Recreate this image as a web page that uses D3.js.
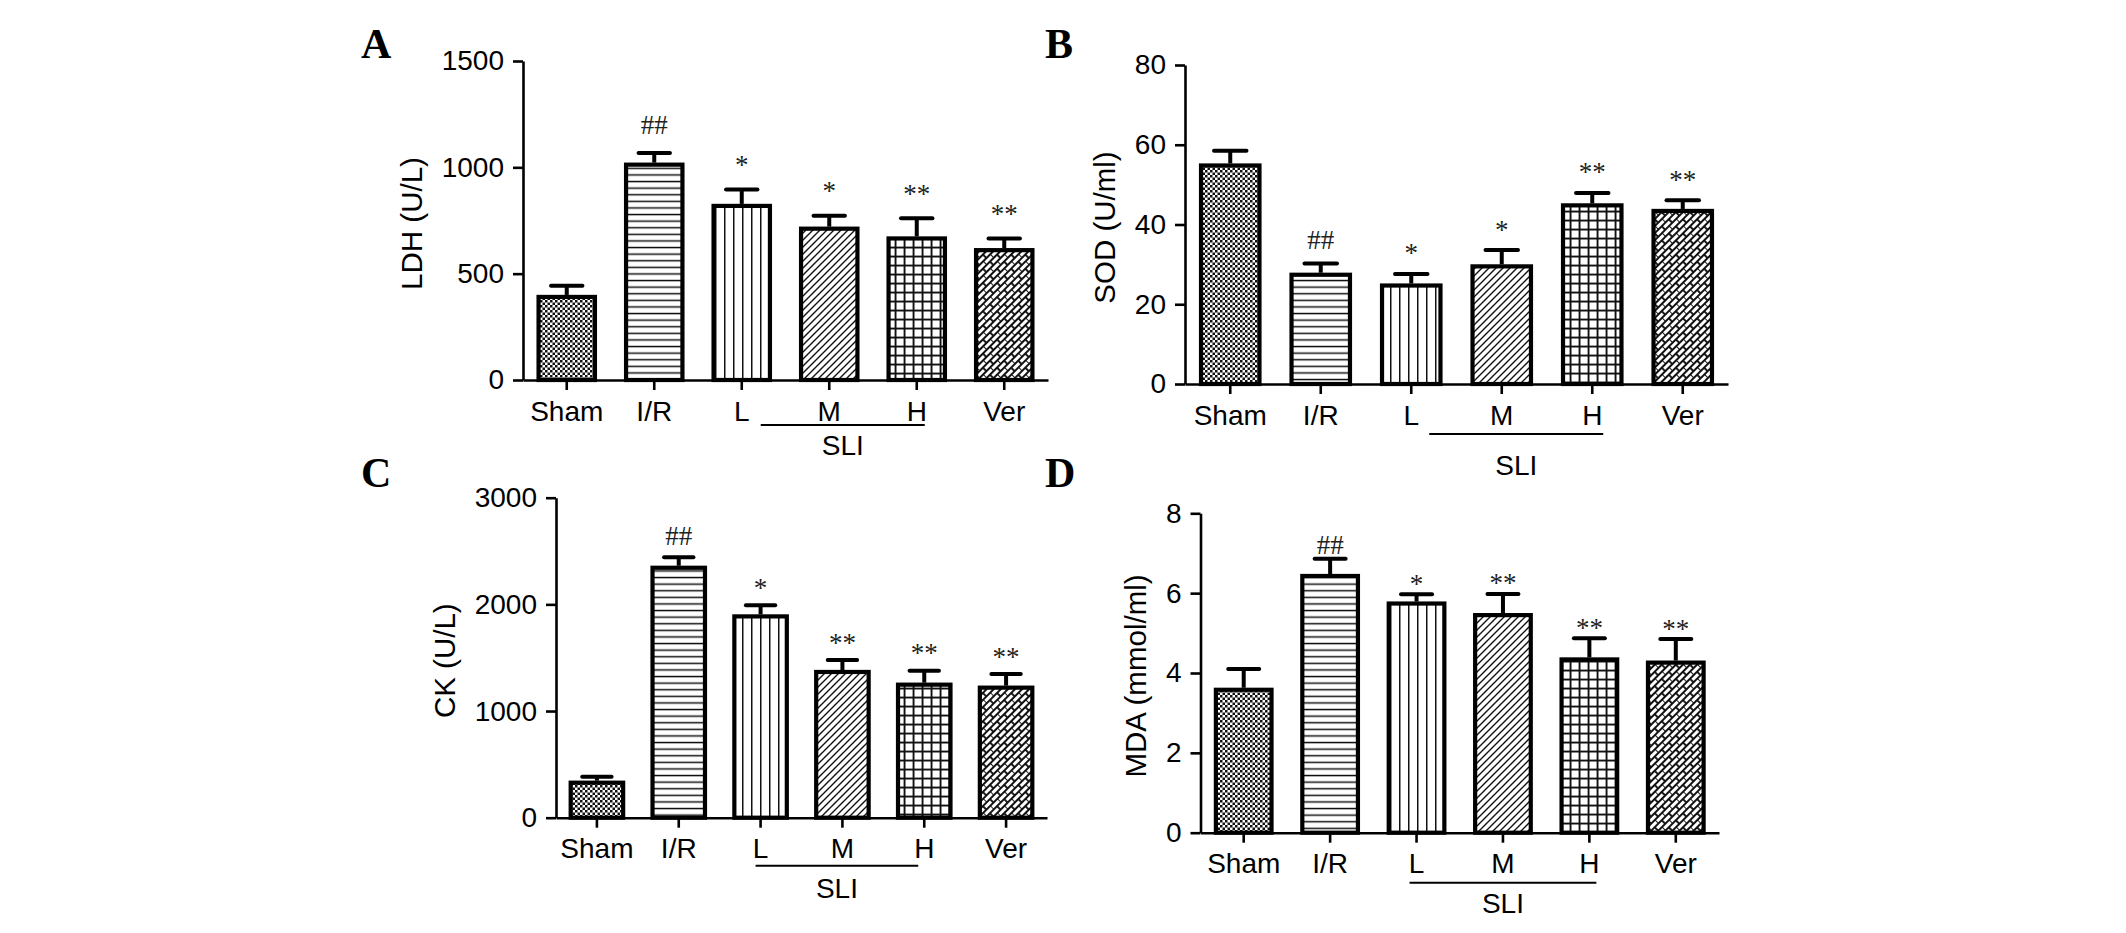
<!DOCTYPE html>
<html>
<head>
<meta charset="utf-8">
<script src="https://cdn.jsdelivr.net/npm/d3@7"></script>
<style>
  html, body { margin: 0; padding: 0; background: #fff; }
  svg { display: block; }
</style>
</head>
<body>
<svg id="chart" width="2126" height="933"></svg>
<script>
// ---------------- data ----------------
const categories = ["Sham", "I/R", "L", "M", "H", "Ver"];
const sliGroup = ["L", "M", "H"];
const sliLabel = "SLI";

const ldhMean = [400, 1022, 828, 721, 675, 620];
const ldhErr  = [43, 45, 68, 51, 86, 45];
const ldhSig  = ["", "##", "*", "*", "**", "**"];
const ldhTicks = [0, 500, 1000, 1500];

const sodMean = [55.3, 27.9, 25.2, 30.0, 45.3, 43.9];
const sodErr  = [3.2, 2.3, 2.4, 3.6, 2.6, 2.2];
const sodSig  = ["", "##", "*", "*", "**", "**"];
const sodTicks = [0, 20, 40, 60, 80];

const ckMean = [347, 2362, 1906, 1385, 1266, 1238];
const ckErr  = [37, 79, 85, 93, 112, 109];
const ckSig  = ["", "##", "*", "**", "**", "**"];
const ckTicks = [0, 1000, 2000, 3000];

const mdaMean = [3.63, 6.48, 5.79, 5.50, 4.39, 4.31];
const mdaErr  = [0.47, 0.38, 0.18, 0.48, 0.48, 0.54];
const mdaSig  = ["", "##", "*", "**", "**", "**"];
const mdaTicks = [0, 2, 4, 6, 8];

// ---------------- layout ----------------
const panels = [
  { letter: "A", title: "LDH (U/L)", mean: ldhMean, err: ldhErr, sig: ldhSig, ticks: ldhTicks,
    x0: 523, x1: 1048, yTop: 61, yBot: 380, lx: 361, ly: 58, sigGap: 28, sli: [19, 8], lineDy: 45, sliDy: 75 },
  { letter: "B", title: "SOD (U/ml)", mean: sodMean, err: sodErr, sig: sodSig, ticks: sodTicks,
    x0: 1185, x1: 1728, yTop: 65, yBot: 384, lx: 1045, ly: 58, sigGap: 24, sli: [18, 11], lineDy: 50, sliDy: 91 },
  { letter: "C", title: "CK (U/L)", mean: ckMean, err: ckErr, sig: ckSig, ticks: ckTicks,
    x0: 556, x1: 1047, yTop: 497.7, yBot: 817.7, lx: 361, ly: 487, sigGap: 21, sli: [-5, -6], lineDy: 48, sliDy: 80 },
  { letter: "D", title: "MDA (mmol/ml)", mean: mdaMean, err: mdaErr, sig: mdaSig, ticks: mdaTicks,
    x0: 1200.5, x1: 1719, yTop: 513.3, yBot: 832.7, lx: 1045, ly: 487, sigGap: 14, sli: [-7, 7], lineDy: 50, sliDy: 80 }
];

const SANS = "'Liberation Sans', Arial, Helvetica, sans-serif";
const SERIF = "'Liberation Serif', 'Times New Roman', serif";

const svg = d3.select("#chart");
svg.append("rect").attr("width", 2126).attr("height", 933).attr("fill", "#fff");

// ---------------- patterns ----------------
const defs = svg.append("defs");
function pat(id, w, h, transform) {
  const p = defs.append("pattern").attr("id", id)
    .attr("patternUnits", "userSpaceOnUse").attr("width", w).attr("height", h);
  if (transform) p.attr("patternTransform", transform);
  p.append("rect").attr("width", w).attr("height", h).attr("fill", "#fff");
  return p;
}
// checker (Sham)
{
  const p = pat("p0", 5, 5);
  p.append("rect").attr("x", 0).attr("y", 0).attr("width", 2.5).attr("height", 2.5).attr("fill", "#111");
  p.append("rect").attr("x", 2.5).attr("y", 2.5).attr("width", 2.5).attr("height", 2.5).attr("fill", "#111");
}
// horizontal lines (I/R)
{
  const p = pat("p1", 10, 6.6);
  p.append("rect").attr("x", 0).attr("y", 2.6).attr("width", 10).attr("height", 1.5).attr("fill", "#111");
}
// vertical lines (L)
{
  const p = pat("p2", 9, 10);
  p.append("rect").attr("x", 4).attr("y", 0).attr("width", 1.5).attr("height", 10).attr("fill", "#111");
}
// diagonal lines (M)
{
  const p = pat("p3", 7, 7);
  p.append("path").attr("d", "M-1,1 l2,-2 M0,7 l7,-7 M6,8 l2,-2")
    .attr("stroke", "#111").attr("stroke-width", 1.4);
}
// grid (H)
{
  const p = pat("p4", 9, 9);
  p.append("rect").attr("x", 3.6).attr("y", 0).attr("width", 1.9).attr("height", 9).attr("fill", "#111");
  p.append("rect").attr("x", 0).attr("y", 3.6).attr("width", 9).attr("height", 1.9).attr("fill", "#111");
}
// diagonal brick (Ver)
{
  const p = pat("p5", 10, 10, "rotate(-45)");
  p.append("path").attr("d", "M0,0 H10 M0,5 H10 M0,10 H10 M0,0 V5 M5,5 V10")
    .attr("stroke", "#111").attr("stroke-width", 1.9).attr("fill", "none");
}

// ---------------- panels ----------------
panels.forEach(P => {
  const g = svg.append("g");
  const x = d3.scaleBand().domain(categories).range([P.x0, P.x1])
    .paddingInner(0.31).paddingOuter(0.155);
  const maxT = P.ticks[P.ticks.length - 1];
  const y = d3.scaleLinear().domain([0, maxT]).range([P.yBot, P.yTop]);
  const bw = x.bandwidth();
  const data = categories.map((c, i) => ({ c, i, v: P.mean[i], e: P.err[i], s: P.sig[i] }));

  // bars
  g.selectAll("rect.bar").data(data).enter().append("rect")
    .attr("class", "bar")
    .attr("x", d => x(d.c) + 2)
    .attr("width", bw - 4)
    .attr("y", d => y(d.v) + 2)
    .attr("height", d => y(0) - y(d.v) - 2)
    .attr("fill", d => `url(#p${d.i})`)
    .attr("stroke", "#000").attr("stroke-width", 4.2);

  // error bars (upper only)
  const capW = bw * 0.52;
  g.selectAll("line.err").data(data).enter().append("line")
    .attr("x1", d => x(d.c) + bw / 2).attr("x2", d => x(d.c) + bw / 2)
    .attr("y1", d => y(d.v)).attr("y2", d => y(d.v + d.e))
    .attr("stroke", "#000").attr("stroke-width", 4);
  g.selectAll("line.cap").data(data).enter().append("line")
    .attr("x1", d => x(d.c) + bw / 2 - capW / 2).attr("x2", d => x(d.c) + bw / 2 + capW / 2)
    .attr("y1", d => y(d.v + d.e)).attr("y2", d => y(d.v + d.e))
    .attr("stroke", "#000").attr("stroke-width", 4).attr("stroke-linecap", "round");

  // significance marks
  g.selectAll("text.sig").data(data.filter(d => d.s)).enter().append("text")
    .attr("x", d => x(d.c) + bw / 2)
    .attr("y", d => y(d.v + d.e) - P.sigGap + (d.s.includes("#") ? 9 : 12.5))
    .attr("text-anchor", "middle")
    .attr("font-family", SERIF).attr("font-size", 27).attr("fill", "#222")
    .text(d => d.s);

  // y axis
  const yAxis = g.append("g").attr("transform", `translate(${P.x0},0)`)
    .call(d3.axisLeft(y).tickValues(P.ticks).tickSize(10).tickSizeOuter(0).tickPadding(9)
      .tickFormat(d3.format("d")));
  yAxis.selectAll("path, line").attr("stroke", "#000").attr("stroke-width", 2.6);
  yAxis.selectAll("text").attr("font-family", SANS).attr("font-size", 28).attr("fill", "#000");

  // x axis
  const xAxis = g.append("g").attr("transform", `translate(0,${P.yBot})`)
    .call(d3.axisBottom(x).tickSize(10).tickSizeOuter(0));
  xAxis.selectAll("path, line").attr("stroke", "#000").attr("stroke-width", 2.6);
  xAxis.selectAll("text").attr("font-family", SANS).attr("font-size", 28).attr("fill", "#000")
    .attr("y", 40.5).attr("dy", 0);

  // group bracket
  const lx1 = x(sliGroup[0]) + bw / 2 + P.sli[0];
  const lx2 = x(sliGroup[sliGroup.length - 1]) + bw / 2 + P.sli[1];
  g.append("line").attr("x1", lx1).attr("x2", lx2)
    .attr("y1", P.yBot + P.lineDy).attr("y2", P.yBot + P.lineDy)
    .attr("stroke", "#000").attr("stroke-width", 2);
  g.append("text").attr("x", (lx1 + lx2) / 2).attr("y", P.yBot + P.sliDy)
    .attr("text-anchor", "middle").attr("font-family", SANS).attr("font-size", 28).attr("fill", "#000")
    .text(sliLabel);

  // axis title
  let minLeft = Infinity;
  yAxis.selectAll("text").each(function () {
    const b = this.getBBox();
    const m = this.parentNode.transform.baseVal.consolidate();
    const tx = m ? m.matrix.e : 0;
    minLeft = Math.min(minLeft, P.x0 + tx + b.x);
  });
  const tx = minLeft - 30;
  const ty = (P.yTop + P.yBot) / 2 + 3;
  g.append("text")
    .attr("transform", `translate(${tx + 10},${ty}) rotate(-90)`)
    .attr("text-anchor", "middle")
    .attr("font-family", SANS).attr("font-size", 29.5).attr("fill", "#000")
    .text(P.title);

  // panel letter
  g.append("text").attr("x", P.lx).attr("y", P.ly)
    .attr("font-family", SERIF).attr("font-weight", "bold").attr("font-size", 42).attr("fill", "#000")
    .text(P.letter);
});
</script>
</body>
</html>
